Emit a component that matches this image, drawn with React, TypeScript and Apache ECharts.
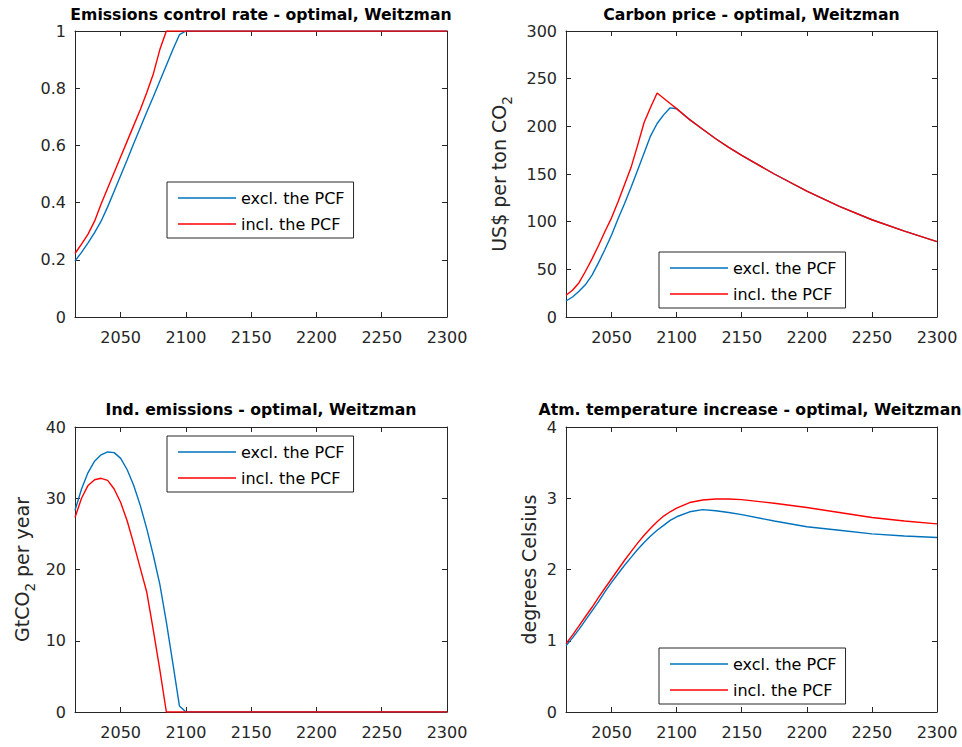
import React, { useEffect, useRef } from 'react';
import * as echarts from 'echarts';

// ---------- data ----------
const YEARS = [2015, 2020, 2025, 2030, 2035, 2040, 2045, 2050, 2055, 2060, 2065, 2070, 2075, 2080, 2085, 2090, 2095, 2100,
  2110, 2120, 2130, 2140, 2150, 2175, 2200, 2225, 2250, 2275, 2300];

const RATE_EXCL = [0.196, 0.226, 0.259, 0.295, 0.335, 0.385, 0.44, 0.495, 0.55, 0.607, 0.662, 0.717, 0.77, 0.825, 0.88, 0.935, 0.987, 1,
  1, 1, 1, 1, 1, 1, 1, 1, 1, 1, 1];
const RATE_INCL = [0.222, 0.255, 0.29, 0.335, 0.395, 0.45, 0.505, 0.56, 0.615, 0.67, 0.725, 0.785, 0.85, 0.935, 1, 1, 1, 1,
  1, 1, 1, 1, 1, 1, 1, 1, 1, 1, 1];

const PRICE_EXCL = [16.8, 21, 27, 34, 44, 57, 71, 86, 103, 119, 136, 154, 172, 190, 203, 212, 219.4, 218.5,
  207, 197, 187, 178, 169.5, 150, 132, 116, 102, 90, 79];
const PRICE_INCL = [22.8, 28, 36, 48, 61, 75, 90, 104, 121, 139, 157, 180, 204, 220, 235, 229.5, 224, 218.6,
  207, 197, 187, 178, 169.5, 150, 132, 116, 102, 90, 79];

const EMIS_EXCL = [28.3, 31.3, 33.6, 35.2, 36.1, 36.5, 36.4, 35.6, 34.0, 31.8, 29.0, 25.7, 22.0, 17.9, 12.6, 6.8, 0.85, 0,
  0, 0, 0, 0, 0, 0, 0, 0, 0, 0, 0];
const EMIS_INCL = [27.3, 30.0, 31.8, 32.6, 32.8, 32.5, 31.3, 29.4, 26.8, 23.6, 20.2, 16.8, 11.5, 5.9, 0, 0, 0, 0,
  0, 0, 0, 0, 0, 0, 0, 0, 0, 0, 0];

const TEMP_EXCL = [0.93, 1.04, 1.16, 1.29, 1.42, 1.55, 1.69, 1.82, 1.94, 2.06, 2.17, 2.28, 2.38, 2.47, 2.55, 2.62, 2.69, 2.74,
  2.81, 2.84, 2.825, 2.80, 2.77, 2.68, 2.60, 2.55, 2.50, 2.47, 2.45];
const TEMP_INCL = [0.96, 1.08, 1.21, 1.34, 1.47, 1.61, 1.74, 1.87, 2.00, 2.13, 2.25, 2.37, 2.48, 2.58, 2.67, 2.75, 2.81, 2.86,
  2.94, 2.975, 2.99, 2.99, 2.98, 2.93, 2.87, 2.80, 2.73, 2.68, 2.64];

const X_TICKS = [2050, 2100, 2150, 2200, 2250, 2300];
const X_MIN = 2015;
const X_MAX = 2300;
const Y_TICKS_RATE = [0, 0.2, 0.4, 0.6, 0.8, 1];
const Y_TICKS_PRICE = [0, 50, 100, 150, 200, 250, 300];
const Y_TICKS_EMIS = [0, 10, 20, 30, 40];
const Y_TICKS_TEMP = [0, 1, 2, 3, 4];

const NAME_EXCL = 'excl. the PCF';
const NAME_INCL = 'incl. the PCF';

const TITLES = [
  'Emissions control rate - optimal, Weitzman',
  'Carbon price - optimal, Weitzman',
  'Ind. emissions - optimal, Weitzman',
  'Atm. temperature increase - optimal, Weitzman',
];

// ---------- style / layout ----------
const FONT = 'DejaVu Sans';
const AX = '#262626';
const BLUE = '#0072BD';
const RED = '#FF0000';

const GRIDS = [
  { left: 75, top: 31, width: 372, height: 286 },
  { left: 566, top: 31, width: 371, height: 286 },
  { left: 75, top: 427, width: 372, height: 285 },
  { left: 566, top: 427, width: 371, height: 285 },
];

const PANELS = [
  { excl: RATE_EXCL, incl: RATE_INCL, yTicks: Y_TICKS_RATE, yName: '', nameGap: 0, legend: [167, 182], titleTop: 6, titleX: 261 },
  { excl: PRICE_EXCL, incl: PRICE_INCL, yTicks: Y_TICKS_PRICE, yName: '{a|US$ per ton CO}{s|2}', nameGap: 52, legend: [659, 252], titleTop: 6, titleX: 751.5 },
  { excl: EMIS_EXCL, incl: EMIS_INCL, yTicks: Y_TICKS_EMIS, yName: '{a|GtCO}{s|2}{a| per year}', nameGap: 38, legend: [167, 436], titleTop: 401, titleX: 261 },
  { excl: TEMP_EXCL, incl: TEMP_INCL, yTicks: Y_TICKS_TEMP, yName: '{b|degrees Celsius}', nameGap: 28, legend: [659, 648], titleTop: 401, titleX: 750 },
];

const NAME_SIZE = 19;

function buildOption() {
  const axisLine = { show: true, onZero: false, lineStyle: { color: AX, width: 1 } };
  const tickStyle = { color: AX, width: 1 };
  const xAxis: any[] = [];
  const yAxis: any[] = [];
  const series: any[] = [];
  PANELS.forEach((p, g) => {
    const yMin = p.yTicks[0];
    const yMax = p.yTicks[p.yTicks.length - 1];
    const yInt = p.yTicks[1] - p.yTicks[0];
    xAxis.push({
      type: 'value', gridIndex: g, min: X_MIN, max: X_MAX, position: 'bottom',
      axisLine, splitLine: { show: false },
      axisTick: { show: true, inside: true, length: 5, customValues: X_TICKS, lineStyle: tickStyle },
      axisLabel: {
        show: true, customValues: X_TICKS, margin: 12, fontSize: 16, fontFamily: FONT, color: AX,
        formatter: (v: number) => String(v),
      },
    });
    xAxis.push({
      type: 'value', gridIndex: g, min: X_MIN, max: X_MAX, position: 'top',
      axisLine, splitLine: { show: false },
      axisTick: { show: true, inside: true, length: 5, customValues: X_TICKS, lineStyle: tickStyle },
      axisLabel: { show: false },
    });
    yAxis.push({
      type: 'value', gridIndex: g, min: yMin, max: yMax, interval: yInt, position: 'left',
      axisLine, splitLine: { show: false },
      axisTick: { show: true, inside: true, length: 5, lineStyle: tickStyle },
      axisLabel: { show: true, margin: 9, fontSize: 16, fontFamily: FONT, color: AX },
      name: p.yName, nameLocation: 'middle', nameRotate: 90, nameGap: p.nameGap,
      nameTextStyle: {
        fontFamily: FONT, fontSize: NAME_SIZE, color: AX,
        rich: {
          a: { fontFamily: FONT, fontSize: NAME_SIZE, color: AX, verticalAlign: 'middle' },
          b: { fontFamily: FONT, fontSize: NAME_SIZE, color: AX },
          s: { fontFamily: FONT, fontSize: 13.5, color: AX, verticalAlign: 'bottom', padding: [16, 0, 0, 0] },
        },
      },
    });
    yAxis.push({
      type: 'value', gridIndex: g, min: yMin, max: yMax, interval: yInt, position: 'right',
      axisLine, splitLine: { show: false },
      axisTick: { show: true, inside: true, length: 5, lineStyle: tickStyle },
      axisLabel: { show: false },
    });
    series.push({
      type: 'line', name: NAME_EXCL, xAxisIndex: 2 * g, yAxisIndex: 2 * g,
      data: YEARS.map((yr, i) => [yr, p.excl[i]]),
      symbol: 'none', showSymbol: false, color: BLUE,
      lineStyle: { color: BLUE, width: 1.4 }, itemStyle: { color: BLUE }, z: 3,
    });
    series.push({
      type: 'line', name: NAME_INCL, xAxisIndex: 2 * g, yAxisIndex: 2 * g,
      data: YEARS.map((yr, i) => [yr, p.incl[i]]),
      symbol: 'none', showSymbol: false, color: RED,
      lineStyle: { color: RED, width: 1.4 }, itemStyle: { color: RED }, z: 4,
    });
  });

  return {
    animation: false,
    backgroundColor: '#ffffff',
    textStyle: { fontFamily: FONT },
    title: TITLES.map((t, i) => ({
      text: t,
      left: PANELS[i].titleX,
      top: PANELS[i].titleTop,
      textAlign: 'center',
      padding: 0,
      textStyle: { fontSize: 15.7, fontWeight: 'bold', fontFamily: FONT, color: '#000' },
    })),
    grid: GRIDS.map((r) => ({ ...r, containLabel: false, outerBoundsMode: 'none' })),
    legend: PANELS.map((p) => ({
      orient: 'vertical',
      left: p.legend[0],
      top: p.legend[1],
      padding: [7, 9, 5, 11],
      itemGap: 8,
      itemWidth: 58,
      itemHeight: 1.5,
      icon: 'rect',
      backgroundColor: '#ffffff',
      borderColor: AX,
      borderWidth: 1,
      borderRadius: 0,
      selectedMode: false,
      textStyle: { fontSize: 16, fontFamily: FONT, color: '#000', lineHeight: 18 },
      data: [NAME_EXCL, NAME_INCL],
      z: 10,
    })),
    xAxis,
    yAxis,
    series,
  };
}

export default function App() {
  const ref = useRef<HTMLDivElement>(null);
  useEffect(() => {
    if (!ref.current) return;
    const chart = echarts.init(ref.current, undefined, { renderer: 'svg' });
    chart.setOption(buildOption() as any);
    return () => chart.dispose();
  }, []);
  return (
    <div
      ref={ref}
      style={{ position: 'fixed', left: 0, top: 0, width: 962, height: 747, background: '#fff' }}
    />
  );
}
